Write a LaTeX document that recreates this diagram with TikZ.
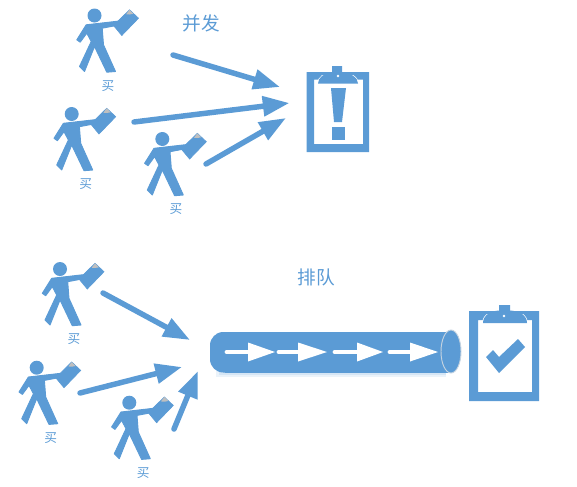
\documentclass[tikz,border=0pt]{standalone}
\usepackage{fontspec}
\newfontfamily\cjk{Noto Sans CJK SC}
\usetikzlibrary{arrows.meta}
\definecolor{blu}{HTML}{5B9BD5}
\definecolor{edgegray}{HTML}{C4D3E0}
\tikzset{
  buyer/.pic={
    \fill[blu] (0,0) circle (7);
    \filldraw[fill=blu, draw=blu, line width=0.7pt, line join=round] (-8.3,9.3) -- (24,5.6) -- (24,9.6) -- (7.7,12.7) -- (9,29.3) -- (21,56) -- (12.3,56.7) -- (0,31) -- (-10,56) -- (-15,51) -- (-3.3,26) -- (-7.7,17.7) -- (-14.3,26.7) -- (-17.7,24.3) -- cycle;
    \filldraw[fill=blu, draw=blu, line width=0.5pt] (35,-5.7) -- (44,2.7) -- (27.3,20) -- (19,10) -- cycle;
    \fill[black!25] (31.7,-1.3) -- (35,-5.7) -- (39,-1.7) -- (35,-1) -- cycle;
  },
  flowarrow/.style={draw=blu, line width=4.1pt, line cap=round, -{Triangle[length=20pt,width=14.5pt]}},
  buylabel/.style={text=blu, font=\cjk\fontsize{9.5}{10}\selectfont, inner sep=0pt},
  titlelabel/.style={text=blu, font=\cjk\fontsize{14}{16}\selectfont, inner sep=0pt},
  pipearrow/.style={draw=white, line width=3.6pt, line cap=round},
  pipehead/.style={fill=white},
  domehalo/.style={draw=white, line width=1pt},
}
\begin{document}
\begin{tikzpicture}[x=0.75pt,y=-0.75pt]
\useasboundingbox (0,0) rectangle (577,486);
% upper group
\pic at (94.5,15.5) {buyer};
\pic at (71.7,114) {buyer};
\pic at (162.3,139) {buyer};
\node[buylabel] (a1) at (108,86) {买};
\node[buylabel] (a2) at (85.7,184) {买};
\node[buylabel] (a3) at (176,209.3) {买};
\node[titlelabel] (t1) at (201.5,23) {并发};
\coordinate (s1) at (173,55);
\coordinate (e1) at (280,87);
\coordinate (s2) at (134,122);
\coordinate (e2) at (289.5,103);
\coordinate (s3) at (206,164);
\coordinate (e3) at (286,118);
\draw[flowarrow] (s1) -- (e1);
\draw[flowarrow] (s2) -- (e2);
\draw[flowarrow] (s3) -- (e3);
% clipboard 1
\fill[blu, even odd rule] (306.5,72) rectangle (369,152) (314,79.5) rectangle (363,144);
\begin{scope}
\clip (310,75) rectangle (366,85);
\draw[domehalo] (318,83.5) .. controls (318,77) and (325,73) .. (332,72.5) -- (342,72.5) .. controls (350,73) and (358,77) .. (358,83.5);
\end{scope}
\fill[blu] (318,83.5) .. controls (318,77) and (325,73) .. (332,72.5) -- (332,66) -- (342,66) -- (342,72.5) .. controls (350,73) and (358,77) .. (358,83.5) -- cycle;
\fill[white] (338,76) circle (1.3);
\fill[blu] (331,88) -- (346,88) -- (342,122) -- (334,122) -- cycle;
\fill[blu] (332,127) rectangle (345,139.5);
% lower group
\pic at (60,269) {buyer};
\pic at (36.7,367.7) {buyer};
\pic at (129.3,402.7) {buyer};
\node[buylabel] (b1) at (74,339) {买};
\node[buylabel] (b2) at (50.7,438) {买};
\node[buylabel] (b3) at (143.3,473) {买};
\node[titlelabel] (t2) at (316.5,277) {排队};
\coordinate (u1) at (103,293);
\coordinate (v1) at (190,340);
\coordinate (u2) at (80,393);
\coordinate (v2) at (182,367);
\coordinate (u3) at (174,429);
\coordinate (v3) at (198,371);
\draw[flowarrow] (u1) -- (v1);
\draw[flowarrow] (u2) -- (v2);
\draw[flowarrow] (u3) -- (v3);
% pipe
\fill[blu!12] (216,333) rectangle (446,376.5);
\fill[blu!25] (219,333) rectangle (446,374.5);
\fill[blu, rounded corners=10pt] (210,332) rectangle (240,372.5);
\fill[blu] (225,332) rectangle (451,372.5);
\draw[edgegray, fill=blu, line width=0.7pt] (451,351.5) ellipse (10 and 21.5);
\draw[pipearrow] (227,352) -- (250,352);
\fill[pipehead] (248,342.5) -- (275,352) -- (248,361.5) -- cycle;
\draw[pipearrow] (279,352) -- (300,352);
\fill[pipehead] (298,342.5) -- (327,352) -- (298,361.5) -- cycle;
\draw[pipearrow] (335,352) -- (359,352);
\fill[pipehead] (357,342.5) -- (383,352) -- (357,361.5) -- cycle;
\draw[pipearrow] (390,352) -- (412,352);
\fill[pipehead] (410,342.5) -- (438,352) -- (410,361.5) -- cycle;
% clipboard 2
\fill[blu, even odd rule] (469,311) rectangle (539,401) (478,320) rectangle (532,392);
\begin{scope}
\clip (472,314) rectangle (536,325);
\draw[domehalo] (483,323) .. controls (483,315) and (491,311) .. (499,310.5) -- (510,310.5) .. controls (519,311) and (527,315) .. (527,323);
\end{scope}
\fill[blu] (483,323) .. controls (483,315) and (491,311) .. (499,310.5) -- (499,305) -- (510,305) -- (510,310.5) .. controls (519,311) and (527,315) .. (527,323) -- cycle;
\fill[white] (504,316) circle (1.4);
\fill[blu] (486,357) -- (493,350) -- (499,357) -- (518,339) -- (525,347) -- (499,373) -- cycle;
\end{tikzpicture}
\end{document}
